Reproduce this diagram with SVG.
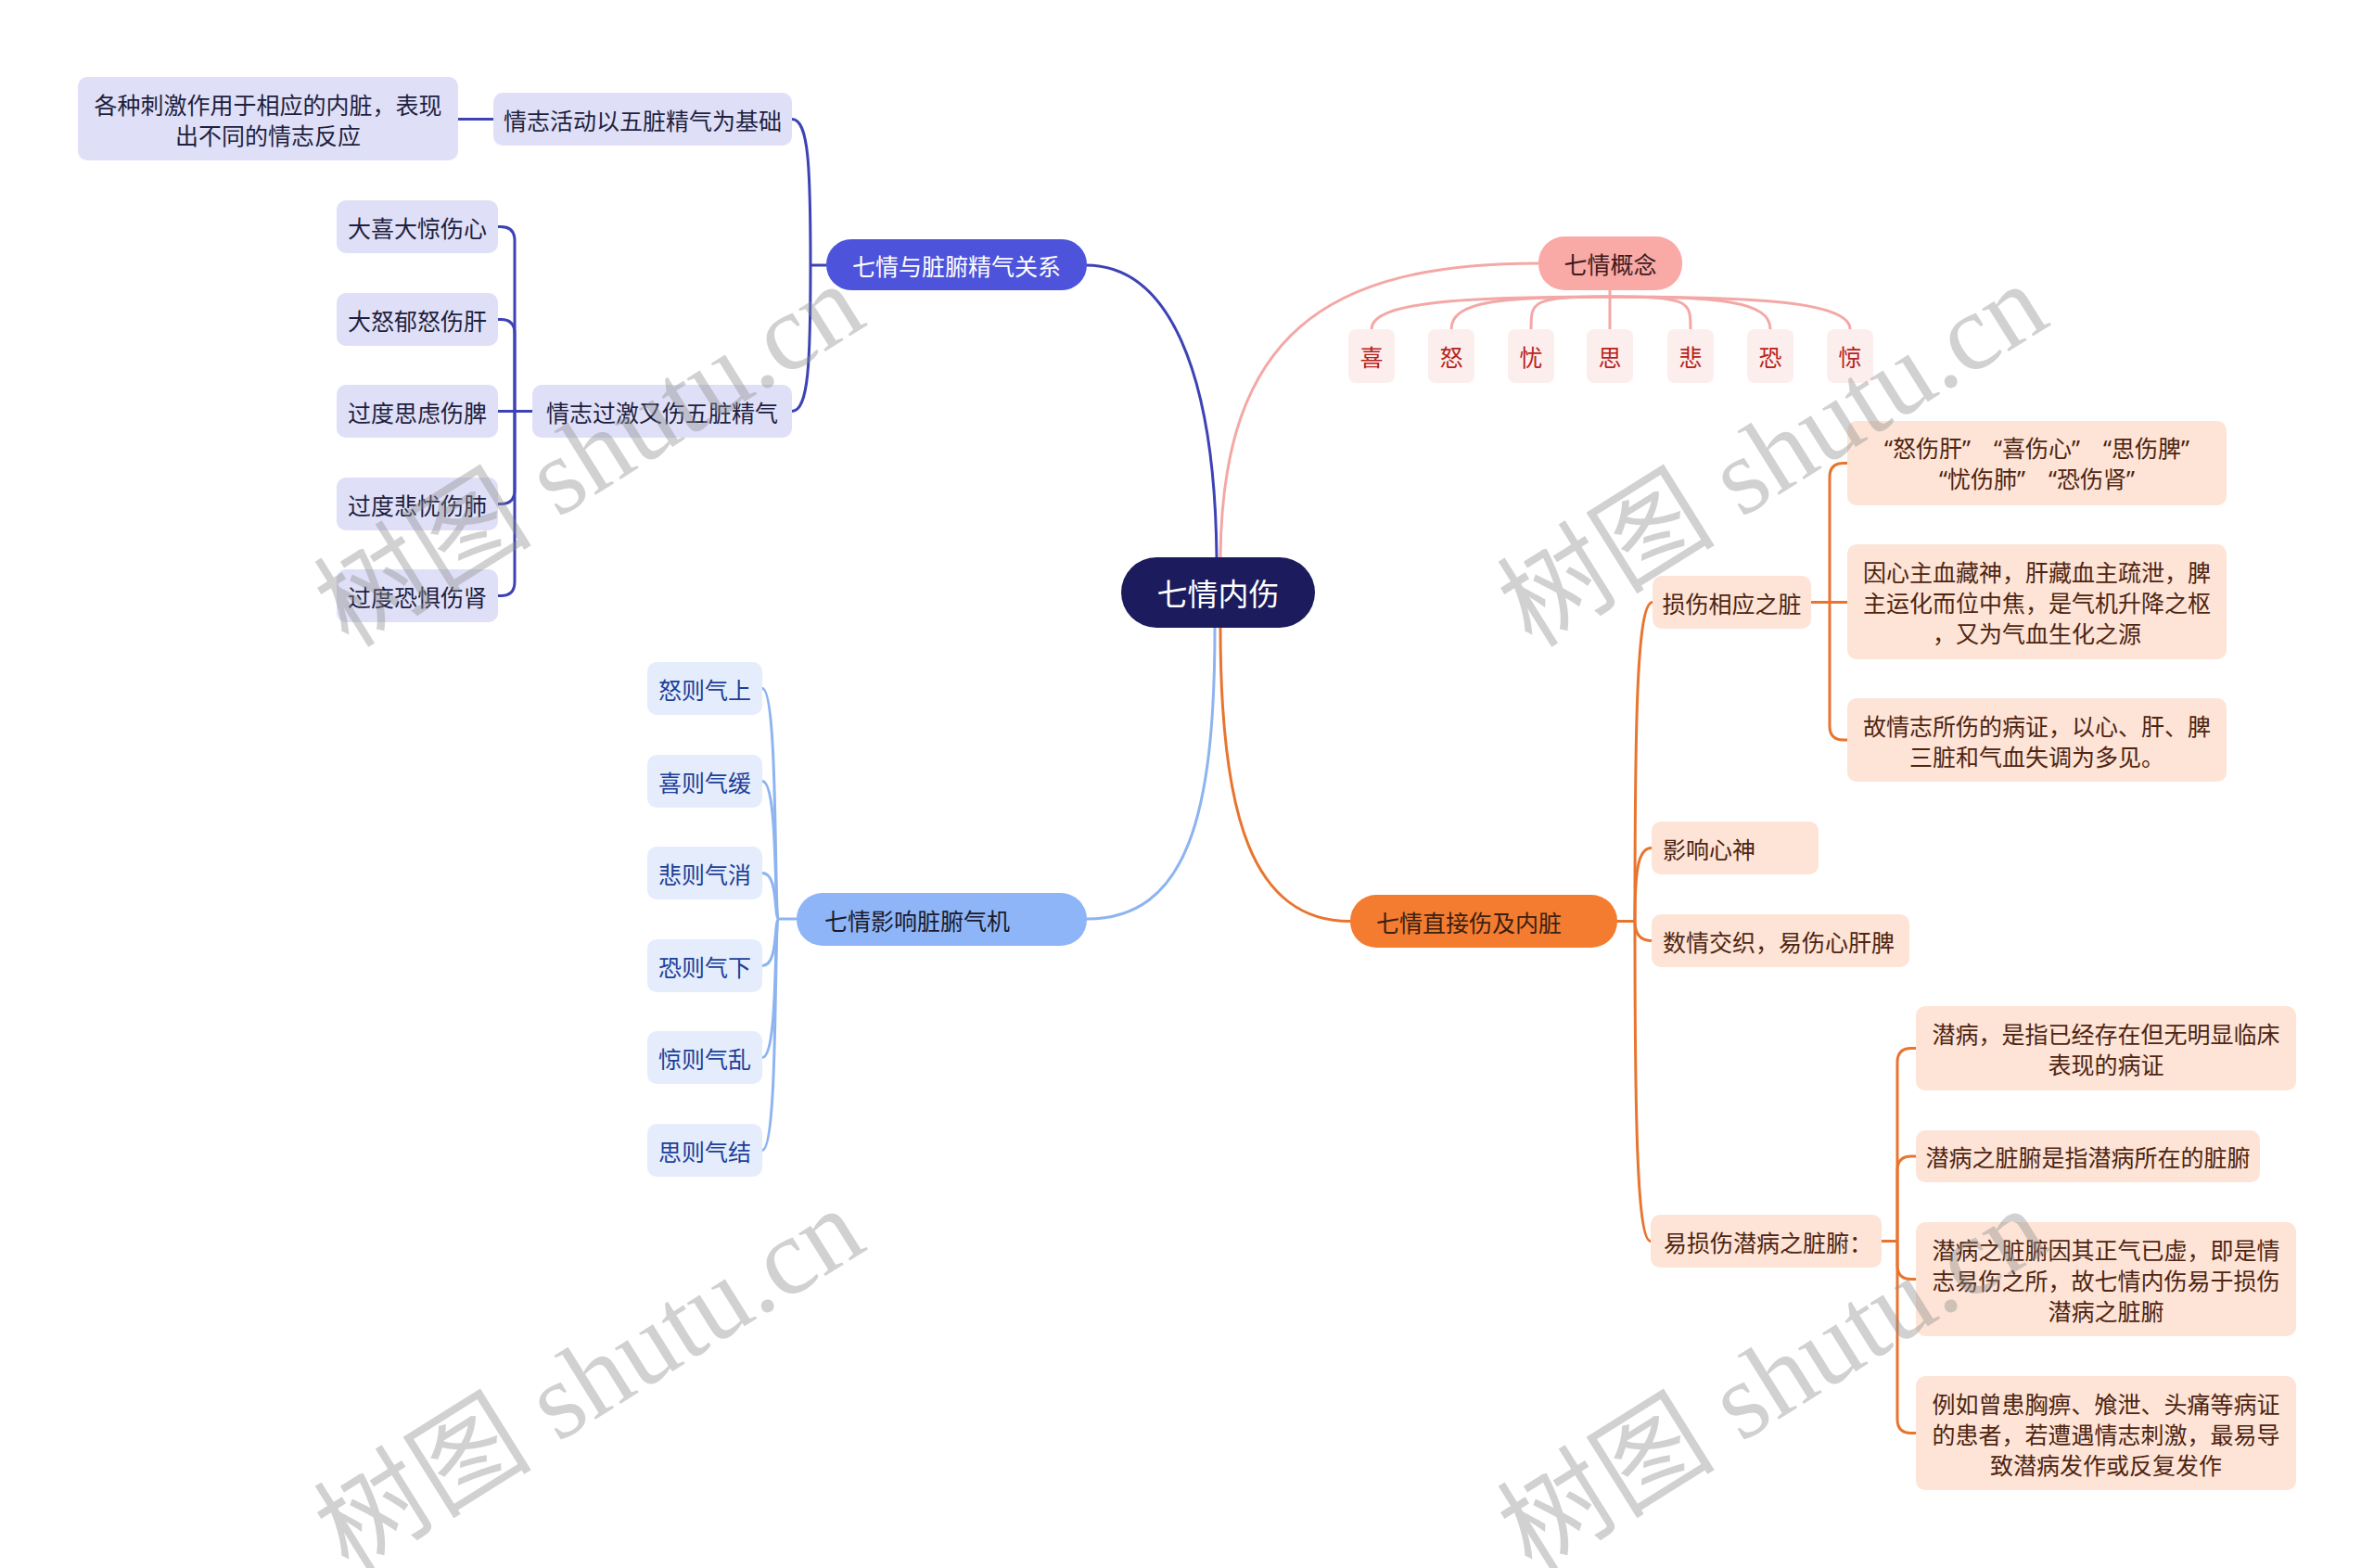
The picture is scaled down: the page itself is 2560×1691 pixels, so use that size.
<svg xmlns="http://www.w3.org/2000/svg" width="2560" height="1691" viewBox="0 0 2560 1691">
<style>
text { font-family: "Noto Sans CJK SC", "Noto Sans", sans-serif; font-size: 25px; dominant-baseline: central; }
.c { text-anchor: middle; }
.l { text-anchor: start; }
.q { font-family: "Noto Sans", "Noto Sans CJK SC", sans-serif; }
.cb { fill: none; stroke: #3d42b5; stroke-width: 3; }
.cp { fill: none; stroke: #f3a8a6; stroke-width: 3; }
.cl { fill: none; stroke: #8db4f0; stroke-width: 3; }
.co { fill: none; stroke: #e8752f; stroke-width: 3; }
.nb { fill: #dfe0f7; } .tb { fill: #1f1f3f; }
.nl { fill: #e5edfc; } .tl { fill: #1d3f9a; }
.no { fill: #fde4d6; } .to { fill: #4f2512; }
.nc { fill: #fdeeee; } .tc { fill: #b8231b; }
.wm { font-family: "Liberation Serif", "Noto Sans CJK SC", serif; font-size: 118px; fill: #8c8c8c; fill-opacity: 0.4; dominant-baseline: auto; }
</style>
<rect width="2560" height="1691" fill="#ffffff"/>

<g id="connectors">
  <path class="cb" d="M1171,286 C1260,286 1310,400 1312,601"/>
  <path class="cp" d="M1316,601 C1318,360 1430,284 1659,284"/>
  <path class="cl" d="M1310,677 C1310,880 1280,991 1172,991"/>
  <path class="co" d="M1316,677 C1316,880 1350,993.5 1456,993.5"/>
  <path class="cb" d="M891,286 L874,286"/>
  <path class="cb" d="M874,286 C874,180 872,128.5 854,128.5"/>
  <path class="cb" d="M874,286 C874,390 872,443.5 854,443.5"/>
  <path class="cb" d="M532,128.5 L494,128.5"/>
  <path class="cb" d="M574,443.5 L537,443.5"/>
  <path class="cb" d="M555,443.5 L555,259.5 Q555,244.5 540,244.5 L537,244.5"/>
  <path class="cb" d="M555,443.5 L555,359.5 Q555,344.5 540,344.5 L537,344.5"/>
  <path class="cb" d="M555,443.5 L555,528.5 Q555,543.5 540,543.5 L537,543.5"/>
  <path class="cb" d="M555,443.5 L555,627.5 Q555,642.5 540,642.5 L537,642.5"/>
  <path class="cp" d="M1736,313 L1736,355"/>
  <path class="cp" d="M1736,320 C1582,320 1479,325 1479,355"/>
  <path class="cp" d="M1736,320 C1617,320 1565,325 1565,355"/>
  <path class="cp" d="M1736,320 C1651,320 1651,325 1651,355"/>
  <path class="cp" d="M1736,320 C1823,320 1823,325 1823,355"/>
  <path class="cp" d="M1736,320 C1855,320 1909,325 1909,355"/>
  <path class="cp" d="M1736,320 C1890,320 1995,325 1995,355"/>
  <path class="cl" d="M859,991 L840,991"/>
  <path class="cl" d="M840,991 C834,991 840,742.5 822,742.5"/>
  <path class="cl" d="M840,991 C834,991 840,842.5 822,842.5"/>
  <path class="cl" d="M840,991 C834,991 840,941.5 822,941.5"/>
  <path class="cl" d="M840,991 C834,991 840,1041.5 822,1041.5"/>
  <path class="cl" d="M840,991 C834,991 840,1140.5 822,1140.5"/>
  <path class="cl" d="M840,991 C834,991 840,1240.5 822,1240.5"/>
  <path class="co" d="M1744,993.5 L1763,993.5"/>
  <path class="co" d="M1763,993.5 C1763,780 1765,649.5 1782,649.5"/>
  <path class="co" d="M1763,993.5 C1763,940 1766,914.5 1781,914.5"/>
  <path class="co" d="M1763,993.5 C1763,1005 1767,1014.5 1781,1014.5"/>
  <path class="co" d="M1763,993.5 C1763,1200 1765,1338.5 1780,1338.5"/>
  <path class="co" d="M1953,649.5 L1992,649.5"/>
  <path class="co" d="M1973,649.5 L1973,514.5 Q1973,499.5 1988,499.5 L1992,499.5"/>
  <path class="co" d="M1973,649.5 L1973,783 Q1973,798 1988,798 L1992,798"/>
  <path class="co" d="M2029,1338.5 L2046,1338.5"/>
  <path class="co" d="M2046,1338.5 L2046,1145.5 Q2046,1130.5 2061,1130.5 L2066,1130.5"/>
  <path class="co" d="M2046,1338.5 L2046,1262 Q2046,1247 2061,1247 L2066,1247"/>
  <path class="co" d="M2046,1338.5 L2046,1364.5 Q2046,1379.5 2061,1379.5 L2066,1379.5"/>
  <path class="co" d="M2046,1338.5 L2046,1530.5 Q2046,1545.5 2061,1545.5 L2066,1545.5"/>
</g>

<g id="root">
  <rect x="1209" y="601" width="209" height="76" rx="38" fill="#1c1b5e"/>
  <text class="c" x="1313.5" y="639" fill="#ffffff" style="font-size:33px">七情内伤</text>
</g>

<g id="n-relation">
  <rect x="891" y="258" width="281" height="55" rx="27" fill="#4d54db"/>
  <text class="c" x="1031.5" y="285.5" fill="#ffffff">七情与脏腑精气关系</text>
</g>
<g id="n-basis">
  <rect class="nb" x="532" y="100" width="322" height="57" rx="10"/>
  <text class="c tb" x="693" y="128.5">情志活动以五脏精气为基础</text>
</g>
<g id="n-stimuli">
  <rect class="nb" x="84" y="83" width="410" height="90" rx="10"/>
  <text class="c tb" x="289" y="112">各种刺激作用于相应的内脏，表现</text>
  <text class="c tb" x="289" y="145">出不同的情志反应</text>
</g>
<g id="n-excess">
  <rect class="nb" x="574" y="415" width="280" height="57" rx="10"/>
  <text class="c tb" x="714" y="443.5">情志过激又伤五脏精气</text>
</g>
<g id="n-heart">
  <rect class="nb" x="363" y="216" width="174" height="57" rx="10"/>
  <text class="c tb" x="450" y="244.5">大喜大惊伤心</text>
</g>
<g id="n-liver">
  <rect class="nb" x="363" y="316" width="174" height="57" rx="10"/>
  <text class="c tb" x="450" y="344.5">大怒郁怒伤肝</text>
</g>
<g id="n-spleen">
  <rect class="nb" x="363" y="415" width="174" height="57" rx="10"/>
  <text class="c tb" x="450" y="443.5">过度思虑伤脾</text>
</g>
<g id="n-lung">
  <rect class="nb" x="363" y="515" width="174" height="57" rx="10"/>
  <text class="c tb" x="450" y="543.5">过度悲忧伤肺</text>
</g>
<g id="n-kidney">
  <rect class="nb" x="363" y="614" width="174" height="57" rx="10"/>
  <text class="c tb" x="450" y="642.5">过度恐惧伤肾</text>
</g>

<g id="n-concept">
  <rect x="1659" y="255" width="155" height="58" rx="28" fill="#f9a9a6"/>
  <text class="c" x="1736.5" y="284" fill="#3d1a1a">七情概念</text>
</g>
<g id="n-xi"><rect class="nc" x="1454" y="355" width="50" height="58" rx="8"/><text class="c tc" x="1479" y="384">喜</text></g>
<g id="n-nu"><rect class="nc" x="1540" y="355" width="50" height="58" rx="8"/><text class="c tc" x="1565" y="384">怒</text></g>
<g id="n-you"><rect class="nc" x="1626" y="355" width="50" height="58" rx="8"/><text class="c tc" x="1651" y="384">忧</text></g>
<g id="n-si"><rect class="nc" x="1711" y="355" width="50" height="58" rx="8"/><text class="c tc" x="1736" y="384">思</text></g>
<g id="n-bei"><rect class="nc" x="1798" y="355" width="50" height="58" rx="8"/><text class="c tc" x="1823" y="384">悲</text></g>
<g id="n-kong"><rect class="nc" x="1884" y="355" width="50" height="58" rx="8"/><text class="c tc" x="1909" y="384">恐</text></g>
<g id="n-jing"><rect class="nc" x="1970" y="355" width="50" height="58" rx="8"/><text class="c tc" x="1995" y="384">惊</text></g>

<g id="n-qiji">
  <rect x="859" y="963" width="313" height="57" rx="28" fill="#8db5f7"/>
  <text class="l" x="889" y="991.5" fill="#1a1a2a">七情影响脏腑气机</text>
</g>
<g id="n-q1"><rect class="nl" x="698" y="714" width="124" height="57" rx="10"/><text class="c tl" x="760" y="742.5">怒则气上</text></g>
<g id="n-q2"><rect class="nl" x="698" y="814" width="124" height="57" rx="10"/><text class="c tl" x="760" y="842.5">喜则气缓</text></g>
<g id="n-q3"><rect class="nl" x="698" y="913" width="124" height="57" rx="10"/><text class="c tl" x="760" y="941.5">悲则气消</text></g>
<g id="n-q4"><rect class="nl" x="698" y="1013" width="124" height="57" rx="10"/><text class="c tl" x="760" y="1041.5">恐则气下</text></g>
<g id="n-q5"><rect class="nl" x="698" y="1112" width="124" height="57" rx="10"/><text class="c tl" x="760" y="1140.5">惊则气乱</text></g>
<g id="n-q6"><rect class="nl" x="698" y="1212" width="124" height="57" rx="10"/><text class="c tl" x="760" y="1240.5">思则气结</text></g>

<g id="n-direct">
  <rect x="1456" y="965" width="288" height="57" rx="28" fill="#f47c30"/>
  <text class="l" x="1484" y="993.5" fill="#3a2012">七情直接伤及内脏</text>
</g>
<g id="n-organ">
  <rect class="no" x="1782" y="621" width="171" height="57" rx="10"/>
  <text class="c to" x="1867.5" y="649.5">损伤相应之脏</text>
</g>
<g id="n-o1">
  <rect class="no" x="1992" y="454" width="409" height="91" rx="10"/>
  <text class="c to q" x="2196.5" y="483">“怒伤肝”　“喜伤心”　“思伤脾”</text>
  <text class="c to q" x="2196.5" y="516">“忧伤肺”　“恐伤肾”</text>
</g>
<g id="n-o2">
  <rect class="no" x="1992" y="587" width="409" height="124" rx="10"/>
  <text class="c to" x="2196.5" y="616">因心主血藏神，肝藏血主疏泄，脾</text>
  <text class="c to" x="2196.5" y="649">主运化而位中焦，是气机升降之枢</text>
  <text class="c to" x="2196.5" y="682">，又为气血生化之源</text>
</g>
<g id="n-o3">
  <rect class="no" x="1992" y="753" width="409" height="90" rx="10"/>
  <text class="c to" x="2196.5" y="781.5">故情志所伤的病证，以心、肝、脾</text>
  <text class="c to" x="2196.5" y="814.5">三脏和气血失调为多见。</text>
</g>
<g id="n-mind">
  <rect class="no" x="1781" y="886" width="180" height="57" rx="10"/>
  <text class="l to" x="1793" y="914.5">影响心神</text>
</g>
<g id="n-mixed">
  <rect class="no" x="1781" y="986" width="278" height="57" rx="10"/>
  <text class="l to" x="1793" y="1014.5">数情交织，易伤心肝脾</text>
</g>
<g id="n-latent">
  <rect class="no" x="1780" y="1310" width="249" height="57" rx="10"/>
  <text class="l to" x="1794" y="1338.5">易损伤潜病之脏腑：</text>
</g>
<g id="n-l1">
  <rect class="no" x="2066" y="1085" width="410" height="91" rx="10"/>
  <text class="c to" x="2271" y="1114">潜病，是指已经存在但无明显临床</text>
  <text class="c to" x="2271" y="1147">表现的病证</text>
</g>
<g id="n-l2">
  <rect class="no" x="2066" y="1219" width="371" height="56" rx="10"/>
  <text class="c to" x="2251.5" y="1247">潜病之脏腑是指潜病所在的脏腑</text>
</g>
<g id="n-l3">
  <rect class="no" x="2066" y="1318" width="410" height="123" rx="10"/>
  <text class="c to" x="2271" y="1346.5">潜病之脏腑因其正气已虚，即是情</text>
  <text class="c to" x="2271" y="1379.5">志易伤之所，故七情内伤易于损伤</text>
  <text class="c to" x="2271" y="1412.5">潜病之脏腑</text>
</g>
<g id="n-l4">
  <rect class="no" x="2066" y="1484" width="410" height="123" rx="10"/>
  <text class="c to" x="2271" y="1512.5">例如曾患胸痹、飧泄、头痛等病证</text>
  <text class="c to" x="2271" y="1545.5">的患者，若遭遇情志刺激，最易导</text>
  <text class="c to" x="2271" y="1578.5">致潜病发作或反复发作</text>
</g>

<g id="watermarks">
  <text class="wm" x="376" y="700" transform="rotate(-32 376 700)">树图 shutu.cn</text>
  <text class="wm" x="1652" y="700" transform="rotate(-32 1652 700)">树图 shutu.cn</text>
  <text class="wm" x="376" y="1697" transform="rotate(-32 376 1697)">树图 shutu.cn</text>
  <text class="wm" x="1652" y="1697" transform="rotate(-32 1652 1697)">树图 shutu.cn</text>
</g>
</svg>
